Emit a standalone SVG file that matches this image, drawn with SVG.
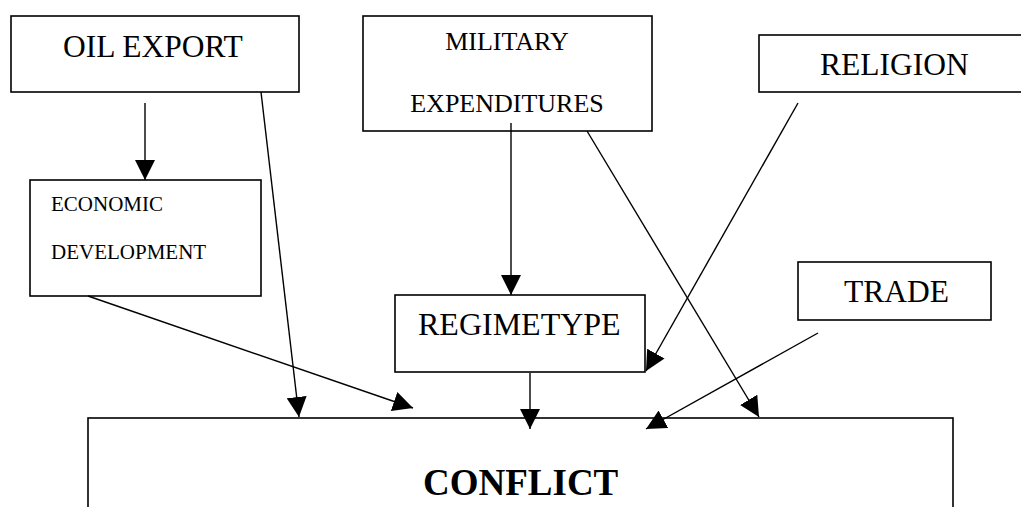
<svg xmlns="http://www.w3.org/2000/svg" width="1021" height="507" viewBox="0 0 1021 507">
<style>
.box{fill:#fff;stroke:#000;stroke-width:1.6}
.t{font-family:'Liberation Serif','Times New Roman','DejaVu Serif',serif;fill:#000}
.ln{stroke:#000;stroke-width:1.4;fill:none;marker-end:url(#ah)}
</style>
<defs>
<marker id="ah" markerUnits="userSpaceOnUse" markerWidth="20" markerHeight="20" refX="20" refY="10" orient="auto" viewBox="0 0 20 20">
<path d="M0,0 L20,10 L0,20 z" fill="#000"/>
</marker>
</defs>
<rect width="1021" height="507" fill="#fff"/>
<g font-family="Liberation Serif, Times New Roman, DejaVu Serif, serif">
<g id="oil-export"><rect class="box" x="11" y="16" width="288" height="76"/><text class="t" x="63" y="57" font-size="31.5">OIL EXPORT</text></g>
<g id="military"><rect class="box" x="363" y="16" width="289" height="115"/><text class="t" x="507" y="50" font-size="26" text-anchor="middle">MILITARY</text><text class="t" x="507" y="112" font-size="26" text-anchor="middle">EXPENDITURES</text></g>
<g id="religion"><rect class="box" x="759" y="35" width="280" height="57"/><text class="t" x="820" y="75" font-size="31.5">RELIGION</text></g>
<g id="economic"><rect class="box" x="30" y="180" width="231" height="116"/><text class="t" x="51" y="211" font-size="21">ECONOMIC</text><text class="t" x="51" y="259" font-size="21">DEVELOPMENT</text></g>
<g id="trade"><rect class="box" x="798" y="262" width="193" height="58"/><text class="t" x="844" y="302" font-size="31.5">TRADE</text></g>
<g id="regimetype"><rect class="box" x="395" y="295" width="250" height="77"/><text class="t" x="418" y="335" font-size="32">REGIMETYPE</text></g>
<g id="conflict"><rect class="box" x="88" y="418" width="865" height="130"/><text class="t" x="423" y="495" font-size="37" font-weight="bold">CONFLICT</text></g>
</g>
<g id="connectors">
<line class="ln" x1="145" y1="103" x2="145" y2="180"/>
<line class="ln" x1="511" y1="123" x2="511" y2="295"/>
<line class="ln" x1="261" y1="92" x2="299" y2="417"/>
<line class="ln" x1="88" y1="296" x2="413" y2="408"/>
<line class="ln" x1="530" y1="373" x2="530" y2="429"/>
<line class="ln" x1="798" y1="103" x2="646" y2="371"/>
<line class="ln" x1="587" y1="131" x2="759" y2="417"/>
<line class="ln" x1="818" y1="333" x2="646" y2="429"/>
</g>
</svg>
